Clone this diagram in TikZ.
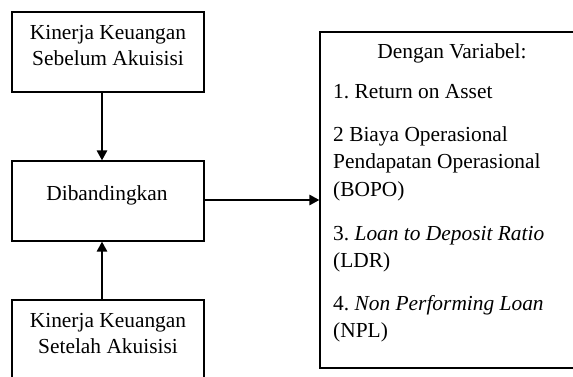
\documentclass[tikz,border=0pt]{standalone}
\usepackage{fontspec}
\setmainfont{Liberation Serif}
\usetikzlibrary{arrows.meta}
\frenchspacing
\tikzset{
  box/.style={draw=black, line width=1.1pt, minimum width=192pt, minimum height=80pt, inner sep=0pt},
  bigbox/.style={draw=black, line width=1.1pt, minimum width=264pt, minimum height=336pt, inner sep=0pt},
  txt/.style={inner sep=0pt, font=\fontsize{21.4}{27}\selectfont\frenchspacing},
  arr/.style={line width=2.6pt, -{Triangle[length=10pt,width=10pt]}}
}
\begin{document}
\begin{tikzpicture}[x=1pt,y=-1pt]
\useasboundingbox (0,0) rectangle (573,376);
\clip (0,0) rectangle (573,376);
\fill[white] (0,0) rectangle (573,376);
% boxes
\node[box] (b1) at (108,52) {};
\node[box] (b2) at (108,201) {};
\node[box] (b3) at (108,340) {};
\node[bigbox] (rb) at (452,200) {};
% texts in left boxes
\node[txt, anchor=base] (t1a) at (108,39) {Kinerja Keuangan};
\node[txt, anchor=base] (t1b) at (108,65) {Sebelum Akuisisi};
\node[txt, anchor=base] (t2) at (107,200) {Dibandingkan};
\node[txt, anchor=base] (t3a) at (108,327) {Kinerja Keuangan};
\node[txt, anchor=base] (t3b) at (108,353) {Setelah Akuisisi};
% texts in right box
\node[txt, anchor=base] (r0) at (452,58) {Dengan Variabel:};
\node[txt, anchor=base west] (r1) at (333,98) {1. Return on Asset};
\node[txt, anchor=base west] (r2a) at (333,141) {2 Biaya Operasional};
\node[txt, anchor=base west] (r2b) at (333,168) {Pendapatan Operasional};
\node[txt, anchor=base west] (r2c) at (333,196) {(BOPO)};
\node[txt, anchor=base west] (r3a) at (333,240) {3. \textit{Loan to Deposit Ratio}};
\node[txt, anchor=base west] (r3b) at (333,267) {(LDR)};
\node[txt, anchor=base west] (r4a) at (333,310) {4. \textit{Non Performing Loan}};
\node[txt, anchor=base west] (r4b) at (333,337) {(NPL)};
% connectors
\draw[arr] ([xshift=-6pt]b1.south) -- ([xshift=-6pt]b2.north);
\draw[arr] ([xshift=-6pt]b3.north) -- ([xshift=-6pt]b2.south);
\draw[arr] ([yshift=1pt]b2.east) -- ([yshift=1pt]b2.east -| rb.west);
\end{tikzpicture}
\end{document}
